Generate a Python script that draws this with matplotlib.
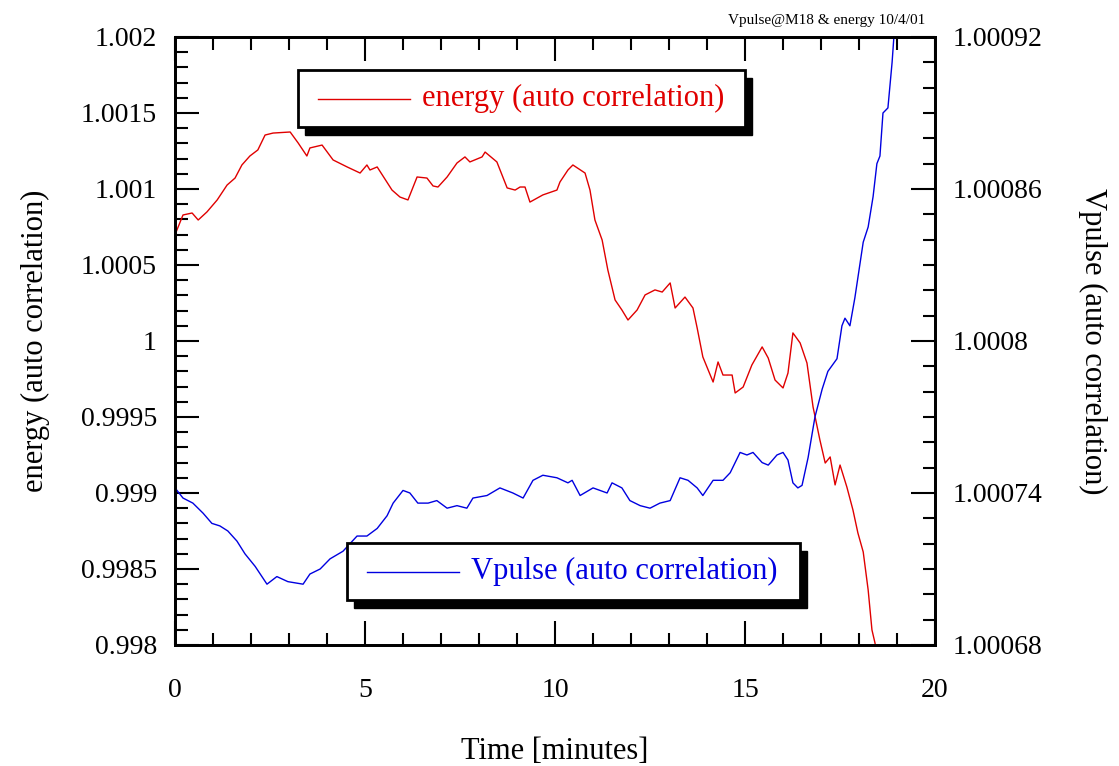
import numpy as np
import matplotlib.pyplot as plt
from matplotlib.patches import Rectangle
from matplotlib.ticker import FixedLocator, MultipleLocator, FuncFormatter

plt.rcParams['font.family'] = ['Liberation Serif', 'DejaVu Serif']

# energy (auto correlation), left axis; time in minutes
energy_t = [0.0, 0.05, 0.21, 0.45, 0.61, 0.84, 1.11, 1.37, 1.58, 1.76, 1.97, 2.18, 2.37,
            2.58, 3.03, 3.24, 3.47, 3.55, 3.87, 4.16, 4.53, 4.87, 5.05, 5.13, 5.32,
            5.71, 5.92, 6.13, 6.37, 6.63, 6.79, 6.92, 7.16, 7.42, 7.63, 7.76, 8.08,
            8.16, 8.47, 8.74, 8.95, 9.08, 9.21, 9.34, 9.68, 10.05, 10.13, 10.34,
            10.47, 10.79, 10.92, 11.05, 11.24, 11.39, 11.58, 11.76, 11.92, 12.16,
            12.37, 12.63, 12.82, 13.03, 13.16, 13.42, 13.63, 13.74, 13.89, 14.16,
            14.29, 14.42, 14.66, 14.74, 14.95, 15.18, 15.45, 15.61, 15.79, 16.0,
            16.13, 16.26, 16.45, 16.63, 16.79, 16.97, 17.11, 17.24, 17.37, 17.5,
            17.68, 17.84, 17.97, 18.11, 18.24, 18.34, 18.42, 18.6]
energy_v = [1.000697, 1.000730, 1.000829, 1.000842, 1.000796, 1.000849, 1.000928,
            1.001026, 1.001072, 1.001158, 1.001217, 1.001257, 1.001355, 1.001368,
            1.001375, 1.001303, 1.001217, 1.001270, 1.001289, 1.001191, 1.001145,
            1.001105, 1.001158, 1.001125, 1.001145, 1.000993, 1.000947, 1.000928,
            1.001079, 1.001072, 1.001020, 1.001013, 1.001079, 1.001171, 1.001211,
            1.001178, 1.001211, 1.001243, 1.001178, 1.001007, 1.000993, 1.001013,
            1.001013, 1.000914, 1.000961, 1.000993, 1.001046, 1.001125, 1.001158,
            1.001105, 1.000993, 1.000796, 1.000664, 1.000467, 1.000270, 1.000204,
            1.000138, 1.000204, 1.000303, 1.000336, 1.000322, 1.000382, 1.000217,
            1.000289, 1.000217, 1.000086, 0.999895, 0.999730, 0.999862, 0.999776,
            0.999776, 0.999658, 0.999697, 0.999842, 0.999961, 0.999888, 0.999743,
            0.999691, 0.999789, 1.000053, 0.999987, 0.999855, 0.999566, 0.999349,
            0.999197, 0.999237, 0.999053, 0.999184, 0.999039, 0.998888, 0.998737,
            0.998612, 0.998362, 0.998099, 0.998013, 0.9977]

# Vpulse (auto correlation), right axis
vpulse_t = [0.0, 0.21, 0.47, 0.74, 0.97, 1.18, 1.39, 1.63, 1.84, 2.11, 2.42, 2.68,
            2.97, 3.37, 3.55, 3.82, 4.08, 4.42, 4.79, 5.05, 5.32, 5.58, 5.74, 6.0,
            6.18, 6.39, 6.66, 6.89, 7.16, 7.42, 7.68, 7.84, 8.21, 8.55, 8.89, 9.16,
            9.42, 9.68, 10.05, 10.34, 10.45, 10.66, 11.0, 11.37, 11.50, 11.76,
            11.97, 12.24, 12.50, 12.76, 13.03, 13.29, 13.50, 13.74, 13.89, 14.16,
            14.42, 14.61, 14.87, 15.05, 15.21, 15.45, 15.61, 15.84, 16.0, 16.13,
            16.26, 16.39, 16.50, 16.66, 16.84, 17.03, 17.18, 17.42, 17.55, 17.63,
            17.76, 17.89, 18.03, 18.11, 18.24, 18.37, 18.47, 18.55, 18.63, 18.76,
            18.87, 18.95]
vpulse_v = [1.000742, 1.000738, 1.000736, 1.000732, 1.000728, 1.000727, 1.000725,
            1.000721, 1.000716, 1.000711, 1.000704, 1.000707, 1.000705, 1.000704,
            1.000708, 1.000710, 1.000714, 1.000717, 1.000723, 1.000723, 1.000726,
            1.000731, 1.000736, 1.000741, 1.000740, 1.000736, 1.000736, 1.000737,
            1.000734, 1.000735, 1.000734, 1.000738, 1.000739, 1.000742, 1.000740,
            1.000738, 1.000745, 1.000747, 1.000746, 1.000744, 1.000745, 1.000739,
            1.000742, 1.000740, 1.000744, 1.000742, 1.000737, 1.000735, 1.000734,
            1.000736, 1.000737, 1.000746, 1.000745, 1.000742, 1.000739, 1.000745,
            1.000745, 1.000748, 1.000756, 1.000755, 1.000756, 1.000752, 1.000751,
            1.000755, 1.000756, 1.000753, 1.000744, 1.000742, 1.000743, 1.000754,
            1.000770, 1.000781, 1.000788, 1.000793, 1.000806, 1.000809, 1.000806,
            1.000817, 1.000831, 1.000839, 1.000845, 1.000857, 1.000870, 1.000873,
            1.000890, 1.000892, 1.000910, 1.000927]

fig = plt.figure(figsize=(11.19, 7.66), dpi=100)
ax = fig.add_axes([0.1564, 0.158, 0.6792, 0.7937])
ax2 = ax.twinx()

ax.plot(energy_t, energy_v, color='#e00000', lw=1.0)
ax2.plot(vpulse_t, vpulse_v, color='#0000e0', lw=1.0)

ax.set_xlim(0, 20)
ax.set_ylim(0.998, 1.002)
ax2.set_ylim(1.00068, 1.00092)

fs_tick = 20
fs_lab = 22
ax.xaxis.set_major_locator(MultipleLocator(5))
ax.xaxis.set_minor_locator(MultipleLocator(1))
ax.yaxis.set_major_locator(FixedLocator([0.998, 0.9985, 0.999, 0.9995, 1.0, 1.0005, 1.001, 1.0015, 1.002]))
ax.yaxis.set_minor_locator(MultipleLocator(0.0001))
ax2.yaxis.set_major_locator(FixedLocator([1.00068, 1.00074, 1.0008, 1.00086, 1.00092]))
ax2.yaxis.set_minor_locator(MultipleLocator(0.00001))
fmt = FuncFormatter(lambda v, p: '%g' % round(v, 6))
ax.yaxis.set_major_formatter(fmt)
ax2.yaxis.set_major_formatter(fmt)

ax.tick_params(which='both', direction='in', top=True, right=False, width=1.5, labelsize=fs_tick)
ax.tick_params(which='major', length=17)
ax.tick_params(which='minor', length=9)
ax.tick_params(axis='x', which='major', pad=24)
ax.tick_params(axis='y', which='major', pad=13)
ax2.tick_params(which='both', direction='in', width=1.5, labelsize=fs_tick)
ax2.tick_params(which='major', length=17, pad=13)
ax2.tick_params(which='minor', length=9)
for a in (ax, ax2):
    for s in a.spines.values():
        s.set_linewidth(2)

ax.set_xlabel('Time [minutes]', fontsize=fs_lab, labelpad=24)
ax.set_ylabel('energy (auto correlation)', fontsize=fs_lab, labelpad=22)
ax2.set_ylabel('Vpulse (auto correlation)', fontsize=fs_lab, rotation=-90, labelpad=46)

fig.text(0.827, 0.973, 'Vpulse@M18 & energy 10/4/01', fontsize=11, ha='right', va='center')


def legend_box(x0, y0, x1, y1, color, label):
    # box corners given in pixels of the 1119x766 figure
    W, H = 1119.0, 766.0
    fx, fy = x0 / W, 1 - y1 / H
    fw, fh = (x1 - x0) / W, (y1 - y0) / H
    fig.add_artist(Rectangle((fx + 7 / W, fy - 8 / H), fw, fh, transform=fig.transFigure,
                             facecolor='black', edgecolor='black', zorder=5))
    fig.add_artist(Rectangle((fx, fy), fw, fh, transform=fig.transFigure,
                             facecolor='white', edgecolor='black', lw=2, zorder=6))
    ym = 1 - (y0 + y1) / 2 / H
    fig.add_artist(plt.Line2D([(x0 + 20) / W, (x0 + 112) / W], [ym, ym], transform=fig.transFigure,
                              color=color, lw=1.0, zorder=7))
    fig.text((x0 + 124) / W, ym, label, color=color, fontsize=fs_lab, va='center', ha='left', zorder=7)


legend_box(298, 70, 745, 127, '#e00000', 'energy (auto correlation)')
legend_box(347, 543, 800, 600, '#0000e0', 'Vpulse (auto correlation)')

fig.savefig('out.png', dpi=100)
